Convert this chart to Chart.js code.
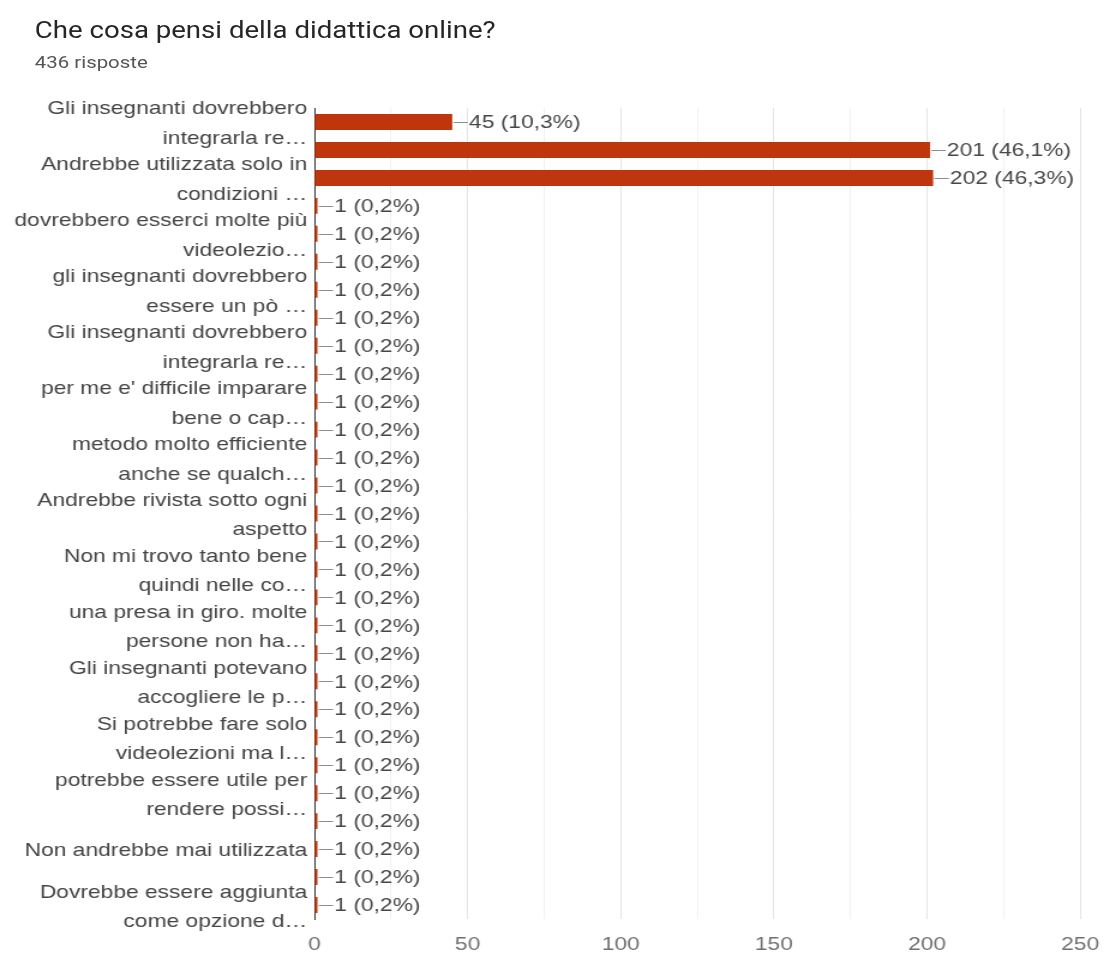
<!DOCTYPE html>
<html lang="it">
<head>
<meta charset="UTF-8">
<title>Che cosa pensi della didattica online?</title>
<script src="https://cdn.jsdelivr.net/npm/chart.js@4.4.0/dist/chart.umd.min.js"></script>
<style>
  html, body { margin: 0; padding: 0; background: #fff; overflow: hidden; }
  /* il grafico viene disegnato stretto e poi allargato in orizzontale */
  .wrap { position: relative; width: 930px; height: 955px; transform: scaleX(1.2); transform-origin: 0 0; }
  .wrap canvas { position: absolute; left: 0; top: 0; }
  .titolo { position: absolute; left: 29px; top: 17px; font: 23px/28px Roboto, sans-serif; color: #262626; white-space: nowrap; }
  .sottotitolo { position: absolute; left: 29px; top: 52px; font: 17px/20px Roboto, sans-serif; color: #555; white-space: nowrap; }
</style>
</head>
<body>
<div class="wrap">
  <canvas id="graficoDidattica" width="930" height="955"></canvas>
  <div class="titolo">Che cosa pensi della didattica online?</div>
  <div class="sottotitolo" id="sottotitolo"></div>
</div>
<script>
const risposteTotali = 436;

// risposte (solo quelle pari hanno l'etichetta visibile sull'asse)
const categorie = [
  ['Gli insegnanti dovrebbero', 'integrarla re…'], '',
  ['Andrebbe utilizzata solo in', 'condizioni …'], '',
  ['dovrebbero esserci molte più', 'videolezio…'], '',
  ['gli insegnanti dovrebbero', 'essere un pò …'], '',
  ['Gli insegnanti dovrebbero', 'integrarla re…'], '',
  ["per me e' difficile imparare", 'bene o cap…'], '',
  ['metodo molto efficiente', 'anche se qualch…'], '',
  ['Andrebbe rivista sotto ogni', 'aspetto'], '',
  ['Non mi trovo tanto bene', 'quindi nelle co…'], '',
  ['una presa in giro. molte', 'persone non ha…'], '',
  ['Gli insegnanti potevano', 'accogliere le p…'], '',
  ['Si potrebbe fare solo', 'videolezioni ma l…'], '',
  ['potrebbe essere utile per', 'rendere possi…'], '',
  'Non andrebbe mai utilizzata', '',
  ['Dovrebbe essere aggiunta', 'come opzione d…']
];

const valori = [
  45, 201, 202, 1, 1, 1, 1, 1, 1, 1,
  1, 1, 1, 1, 1, 1, 1, 1, 1, 1,
  1, 1, 1, 1, 1, 1, 1, 1, 1
];

const tickAsse = [0, 50, 100, 150, 200, 250];

const fontEtichette = '"Liberation Sans", Arial, sans-serif';

document.getElementById('sottotitolo').textContent = risposteTotali + ' risposte';

// etichetta "n (x%)" con trattino a destra di ogni barra
const etichetteValori = {
  id: 'etichetteValori',
  afterDatasetsDraw(chart) {
    const c = chart.ctx;
    const meta = chart.getDatasetMeta(0);
    c.save();
    c.font = '19px ' + fontEtichette;
    c.textBaseline = 'middle';
    c.textAlign = 'left';
    meta.data.forEach((bar, i) => {
      const v = valori[i];
      const perc = (v / risposteTotali * 100).toFixed(1).replace('.', ',');
      const y = Math.round(bar.y) + 0.5;
      c.strokeStyle = '#8c8c8c';
      c.lineWidth = 1;
      c.beginPath();
      c.moveTo(bar.x + 1, y);
      c.lineTo(bar.x + 13, y);
      c.stroke();
      c.fillStyle = '#474747';
      c.fillText(v + ' (' + perc + '%)', bar.x + 14, bar.y + 1);
    });
    c.restore();
  }
};

const ctx = document.getElementById('graficoDidattica').getContext('2d');

new Chart(ctx, {
  type: 'bar',
  data: {
    labels: categorie,
    datasets: [{
      data: valori,
      backgroundColor: '#bf360c',
      barPercentage: 0.57,
      categoryPercentage: 1
    }]
  },
  options: {
    indexAxis: 'y',
    responsive: false,
    animation: false,
    layout: { padding: { left: 0, right: 20, top: 108, bottom: 0 } },
    plugins: {
      legend: { display: false },
      tooltip: { enabled: false }
    },
    scales: {
      x: {
        min: tickAsse[0],
        max: tickAsse[tickAsse.length - 1],
        ticks: {
          stepSize: 25,
          autoSkip: false,
          maxRotation: 0,
          padding: 14,
          color: '#707070',
          font: { family: fontEtichette, size: 19 },
          callback: v => tickAsse.includes(v) ? v : ''
        },
        grid: {
          drawTicks: false,
          color: c => {
            if (c.tick.value === 0) return 'rgba(0,0,0,0)';
            return c.tick.value % 50 === 0 ? '#e4e4e4' : '#f0f0f0';
          }
        },
        border: { display: false },
        afterFit: s => { s.height = 36; }
      },
      y: {
        ticks: {
          autoSkip: false,
          padding: 6,
          labelOffset: 2,
          color: '#444444',
          font: { family: fontEtichette, size: 19, lineHeight: 1.55 }
        },
        grid: { display: false, drawTicks: false },
        border: { display: true, color: '#333333', width: 1 },
        afterFit: s => { s.width = 262; }
      }
    }
  },
  plugins: [etichetteValori]
});
</script>
</body>
</html>
